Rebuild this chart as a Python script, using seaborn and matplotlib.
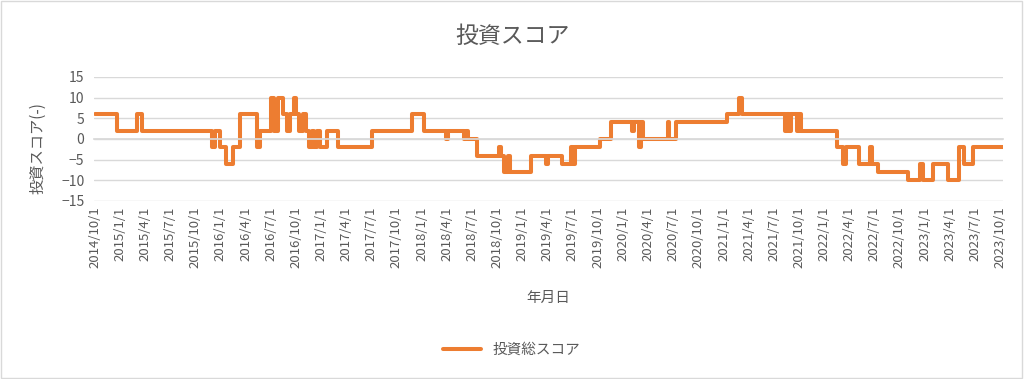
import matplotlib
matplotlib.use("Agg")
import matplotlib.pyplot as plt
from matplotlib.patches import Rectangle
import pandas as pd
import seaborn as sns

# dates where the score changes, and the score from that date on
change_dates = [
    "2014-10-01", "2014-12-20", "2015-03-03", "2015-03-21", "2015-11-30", "2015-12-11",
    "2015-12-29", "2016-01-20", "2016-02-15", "2016-03-11", "2016-05-13", "2016-05-24",
    "2016-07-03", "2016-07-12", "2016-07-29", "2016-08-16", "2016-08-31", "2016-09-11",
    "2016-09-23", "2016-10-02", "2016-10-13", "2016-10-28", "2016-11-08", "2016-11-19",
    "2016-11-30", "2016-12-07", "2016-12-18", "2016-12-27", "2017-01-23", "2017-03-01",
    "2017-07-03", "2017-11-25", "2018-01-10", "2018-03-31", "2018-04-06", "2018-06-02",
    "2018-06-11", "2018-06-18", "2018-07-19", "2018-10-08", "2018-10-15", "2018-10-26",
    "2018-11-11", "2018-11-18", "2019-02-03", "2019-03-28", "2019-04-04", "2019-05-25",
    "2019-06-25", "2019-07-04", "2019-07-11", "2019-10-11", "2019-11-20", "2020-02-02",
    "2020-02-11", "2020-02-28", "2020-03-08", "2020-03-15", "2020-06-11", "2020-06-18",
    "2020-07-12", "2021-01-14", "2021-02-26", "2021-03-07", "2021-08-11", "2021-08-20",
    "2021-08-27", "2021-09-04", "2021-09-24", "2021-10-03", "2021-10-08", "2022-02-17",
    "2022-03-09", "2022-03-21", "2022-05-06", "2022-06-15", "2022-06-22", "2022-07-16",
    "2022-11-02", "2022-12-16", "2022-12-25", "2023-02-01", "2023-03-28", "2023-05-07",
    "2023-05-25", "2023-06-25", "2023-10-12",
]
scores = [
    6, 2, 6, 2, -2, 2,
    -2, -6, -2, 6, -2, 2,
    10, 2, 10, 6, 2, 6,
    10, 6, 2, 6, 2, -2,
    2, -2, 2, -2, 2, -2,
    2, 6, 2, 0, 2, 0,
    2, 0, -4, -2, -4, -8,
    -4, -8, -4, -6, -4, -6,
    -2, -6, -2, 0, 4, 2,
    4, -2, 4, 0, 4, 0,
    4, 6, 10, 6, 2, 6,
    2, 6, 2, 6, 2, -2,
    -6, -2, -6, -2, -6, -8,
    -10, -6, -10, -6, -10, -2,
    -6, -2, -2,
]
tick_dates = pd.date_range("2014-10-01", "2023-10-01", freq="QS-OCT")
tick_labels = [f"{d.year}/{d.month}/{d.day}" for d in tick_dates]

title = "投資スコア"
y_label = "投資スコア(-)"
x_label = "年月日"
series_name = "投資総スコア"

df = pd.DataFrame({"date": pd.to_datetime(change_dates), "score": scores})

sns.set_theme(style="white")
plt.rcParams["font.family"] = ["Noto Sans CJK JP", "DejaVu Sans"]

grey = "#595959"
light = "#d9d9d9"
orange = "#ed7d31"

fig = plt.figure(figsize=(10.24, 3.79), dpi=100)
ax = fig.add_axes([0.0918, 0.4697, 0.8877, 0.3272])

sns.lineplot(data=df, x="date", y="score", ax=ax, color=orange, linewidth=2.9,
             drawstyle="steps-post", label=series_name, legend=False,
             solid_joinstyle="round", solid_capstyle="round")

ax.set_xlim(pd.Timestamp("2014-09-29"), pd.Timestamp("2023-10-12"))
ax.set_ylim(-15, 15)
ax.set_yticks(range(-15, 16, 5))
ax.yaxis.grid(True, color=light, linewidth=1)
ax.xaxis.grid(False)
ax.set_xlabel("")
ax.set_ylabel("")

for s in ["top", "right", "left"]:
    ax.spines[s].set_visible(False)
ax.spines["bottom"].set_position(("data", 0))
ax.spines["bottom"].set_color(light)
ax.set_xticks(tick_dates)
ax.tick_params(axis="x", direction="out", length=5, color=light, labelbottom=False)
ax.tick_params(axis="y", length=0, labelsize=10, labelcolor=grey, pad=7)

sec = ax.secondary_xaxis(location=0)
sec.set_xticks(tick_dates)
sec.set_xticklabels(tick_labels, rotation=90, fontsize=9.5, color=grey)
sec.tick_params(length=0, pad=4)
sec.spines["bottom"].set_visible(False)

fig.text(0.5, 0.905, title, ha="center", va="center", fontsize=16.5, color=grey)
fig.text(0.037, 0.61, y_label, ha="center", va="center", rotation=90, fontsize=11, color=grey)
fig.text(0.5356, 0.214, x_label, ha="center", va="center", fontsize=10.5, color=grey)

leg = fig.legend(loc="center", bbox_to_anchor=(0.5, 0.077), frameon=False,
                 handlelength=2.6, fontsize=10.5)
for t in leg.get_texts():
    t.set_color(grey)

fig.patches.append(Rectangle((0.001, 0.002), 0.997, 0.995, transform=fig.transFigure,
                             fill=False, edgecolor=light, linewidth=1))

fig.savefig("out.png", dpi=100)
